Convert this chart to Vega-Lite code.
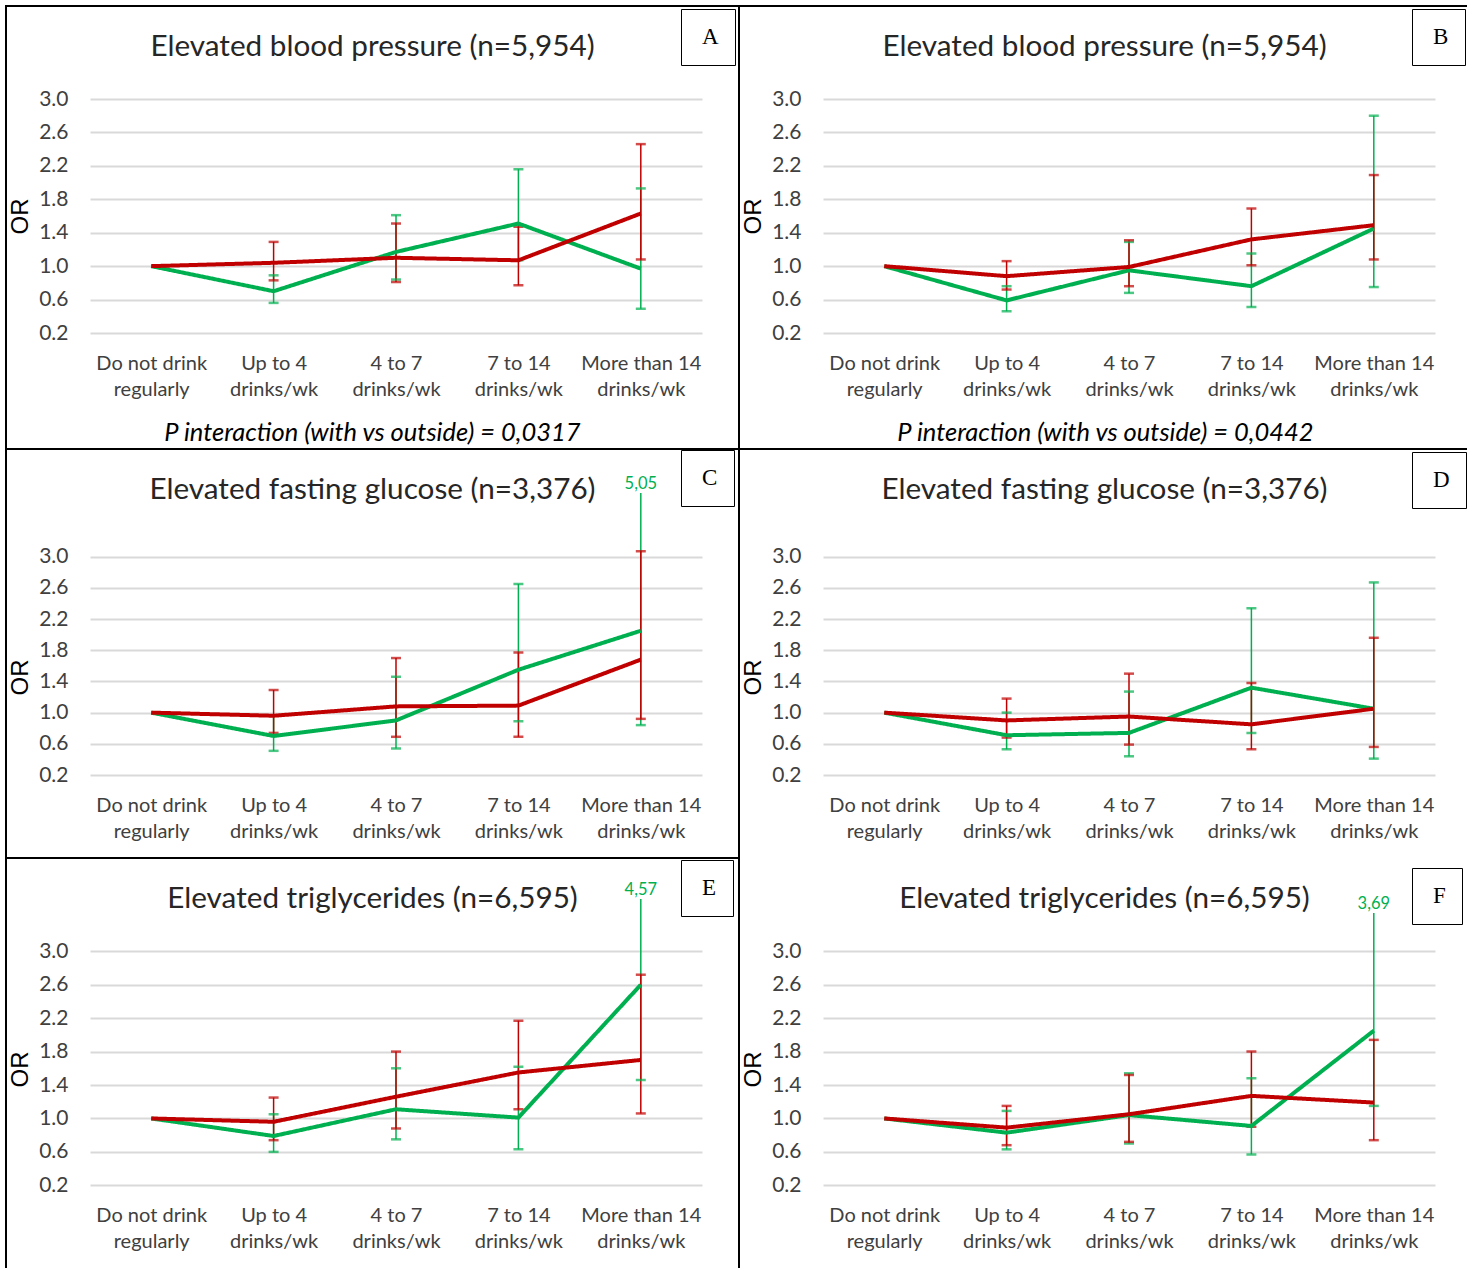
{
  "$schema": "https://vega.github.io/schema/vega-lite/v6.json",
  "padding": {"left": 5, "top": 5, "right": 0, "bottom": 0},
  "autosize": {"type": "pad"},
  "bounds": "flush",
  "spacing": 0,
  "columns": 2,
  "datasets": {
    "or": [
      {"panel":"A","group":"outside","cat":"Do not drink regularly","or":1.0},
      {"panel":"A","group":"outside","cat":"Up to 4 drinks/wk","or":0.70,"lo":0.56,"hi":0.89},
      {"panel":"A","group":"outside","cat":"4 to 7 drinks/wk","or":1.17,"lo":0.84,"hi":1.61},
      {"panel":"A","group":"outside","cat":"7 to 14 drinks/wk","or":1.51,"lo":1.07,"hi":2.16},
      {"panel":"A","group":"outside","cat":"More than 14 drinks/wk","or":0.97,"lo":0.49,"hi":1.93},
      {"panel":"A","group":"with","cat":"Do not drink regularly","or":1.0},
      {"panel":"A","group":"with","cat":"Up to 4 drinks/wk","or":1.04,"lo":0.83,"hi":1.29},
      {"panel":"A","group":"with","cat":"4 to 7 drinks/wk","or":1.10,"lo":0.81,"hi":1.51},
      {"panel":"A","group":"with","cat":"7 to 14 drinks/wk","or":1.07,"lo":0.77,"hi":1.47},
      {"panel":"A","group":"with","cat":"More than 14 drinks/wk","or":1.63,"lo":1.08,"hi":2.46},

      {"panel":"B","group":"outside","cat":"Do not drink regularly","or":1.0},
      {"panel":"B","group":"outside","cat":"Up to 4 drinks/wk","or":0.59,"lo":0.46,"hi":0.76},
      {"panel":"B","group":"outside","cat":"4 to 7 drinks/wk","or":0.95,"lo":0.68,"hi":1.29},
      {"panel":"B","group":"outside","cat":"7 to 14 drinks/wk","or":0.76,"lo":0.51,"hi":1.15},
      {"panel":"B","group":"outside","cat":"More than 14 drinks/wk","or":1.45,"lo":0.75,"hi":2.80},
      {"panel":"B","group":"with","cat":"Do not drink regularly","or":1.0},
      {"panel":"B","group":"with","cat":"Up to 4 drinks/wk","or":0.88,"lo":0.72,"hi":1.06},
      {"panel":"B","group":"with","cat":"4 to 7 drinks/wk","or":0.99,"lo":0.76,"hi":1.31},
      {"panel":"B","group":"with","cat":"7 to 14 drinks/wk","or":1.32,"lo":1.01,"hi":1.69},
      {"panel":"B","group":"with","cat":"More than 14 drinks/wk","or":1.49,"lo":1.08,"hi":2.09},

      {"panel":"C","group":"outside","cat":"Do not drink regularly","or":1.0},
      {"panel":"C","group":"outside","cat":"Up to 4 drinks/wk","or":0.70,"lo":0.51,"hi":0.96},
      {"panel":"C","group":"outside","cat":"4 to 7 drinks/wk","or":0.90,"lo":0.54,"hi":1.46},
      {"panel":"C","group":"outside","cat":"7 to 14 drinks/wk","or":1.55,"lo":0.89,"hi":2.65},
      {"panel":"C","group":"outside","cat":"More than 14 drinks/wk","or":2.05,"lo":0.84,"hi":5.05},
      {"panel":"C","group":"with","cat":"Do not drink regularly","or":1.0},
      {"panel":"C","group":"with","cat":"Up to 4 drinks/wk","or":0.96,"lo":0.74,"hi":1.29},
      {"panel":"C","group":"with","cat":"4 to 7 drinks/wk","or":1.08,"lo":0.69,"hi":1.70},
      {"panel":"C","group":"with","cat":"7 to 14 drinks/wk","or":1.09,"lo":0.69,"hi":1.77},
      {"panel":"C","group":"with","cat":"More than 14 drinks/wk","or":1.68,"lo":0.92,"hi":3.07},

      {"panel":"D","group":"outside","cat":"Do not drink regularly","or":1.0},
      {"panel":"D","group":"outside","cat":"Up to 4 drinks/wk","or":0.71,"lo":0.53,"hi":1.00},
      {"panel":"D","group":"outside","cat":"4 to 7 drinks/wk","or":0.74,"lo":0.44,"hi":1.27},
      {"panel":"D","group":"outside","cat":"7 to 14 drinks/wk","or":1.32,"lo":0.74,"hi":2.34},
      {"panel":"D","group":"outside","cat":"More than 14 drinks/wk","or":1.05,"lo":0.41,"hi":2.67},
      {"panel":"D","group":"with","cat":"Do not drink regularly","or":1.0},
      {"panel":"D","group":"with","cat":"Up to 4 drinks/wk","or":0.90,"lo":0.68,"hi":1.18},
      {"panel":"D","group":"with","cat":"4 to 7 drinks/wk","or":0.95,"lo":0.59,"hi":1.50},
      {"panel":"D","group":"with","cat":"7 to 14 drinks/wk","or":0.85,"lo":0.53,"hi":1.38},
      {"panel":"D","group":"with","cat":"More than 14 drinks/wk","or":1.05,"lo":0.56,"hi":1.96},

      {"panel":"E","group":"outside","cat":"Do not drink regularly","or":1.0},
      {"panel":"E","group":"outside","cat":"Up to 4 drinks/wk","or":0.79,"lo":0.60,"hi":1.05},
      {"panel":"E","group":"outside","cat":"4 to 7 drinks/wk","or":1.11,"lo":0.75,"hi":1.60},
      {"panel":"E","group":"outside","cat":"7 to 14 drinks/wk","or":1.01,"lo":0.63,"hi":1.62},
      {"panel":"E","group":"outside","cat":"More than 14 drinks/wk","or":2.60,"lo":1.46,"hi":4.57},
      {"panel":"E","group":"with","cat":"Do not drink regularly","or":1.0},
      {"panel":"E","group":"with","cat":"Up to 4 drinks/wk","or":0.96,"lo":0.74,"hi":1.25},
      {"panel":"E","group":"with","cat":"4 to 7 drinks/wk","or":1.26,"lo":0.88,"hi":1.80},
      {"panel":"E","group":"with","cat":"7 to 14 drinks/wk","or":1.55,"lo":1.11,"hi":2.17},
      {"panel":"E","group":"with","cat":"More than 14 drinks/wk","or":1.70,"lo":1.06,"hi":2.72},

      {"panel":"F","group":"outside","cat":"Do not drink regularly","or":1.0},
      {"panel":"F","group":"outside","cat":"Up to 4 drinks/wk","or":0.83,"lo":0.63,"hi":1.09},
      {"panel":"F","group":"outside","cat":"4 to 7 drinks/wk","or":1.04,"lo":0.70,"hi":1.54},
      {"panel":"F","group":"outside","cat":"7 to 14 drinks/wk","or":0.91,"lo":0.57,"hi":1.48},
      {"panel":"F","group":"outside","cat":"More than 14 drinks/wk","or":2.05,"lo":1.15,"hi":3.69},
      {"panel":"F","group":"with","cat":"Do not drink regularly","or":1.0},
      {"panel":"F","group":"with","cat":"Up to 4 drinks/wk","or":0.89,"lo":0.68,"hi":1.15},
      {"panel":"F","group":"with","cat":"4 to 7 drinks/wk","or":1.05,"lo":0.72,"hi":1.52},
      {"panel":"F","group":"with","cat":"7 to 14 drinks/wk","or":1.27,"lo":0.90,"hi":1.80},
      {"panel":"F","group":"with","cat":"More than 14 drinks/wk","or":1.19,"lo":0.74,"hi":1.94}
    ]
  },
  "resolve": {"scale": {"x": "independent", "y": "independent", "strokeDash": "independent"}, "axis": {"x": "independent", "y": "independent"}, "legend": {"strokeDash": "independent"}},
  "concat": [
    {
      "width": 733, "height": 443,
      "title": {"text": "Elevated blood pressure (n=5,954)"},
      "data": {"name": "or"},
      "transform": [{"filter": "datum.panel == 'A'"}],
      "encoding": {
        "x": {"field": "cat", "type": "ordinal", "sort": ["Do not drink regularly", "Up to 4 drinks/wk", "4 to 7 drinks/wk", "7 to 14 drinks/wk", "More than 14 drinks/wk"], "scale": {"type": "point", "range": [84, 696], "padding": 0.5},
          "axis": {"offset": -96, "labelExpr": "datum.label == 'Do not drink regularly' ? ['Do not drink', 'regularly'] : [replace(datum.label, ' drinks/wk', ''), 'drinks/wk']", "title": "P interaction (with vs outside) = 0,0317", "titleX": 366, "titleY": 67, "titleFontStyle": "italic", "titleFontSize": 25.5, "titleFont": "Lato", "titleBaseline": "top", "titleAlign": "center"}},
        "color": {"field": "group", "type": "nominal", "scale": {"domain": ["outside", "with"], "range": ["#00B050", "#C00000"]}, "legend": null}
      },
      "layer": [
        {"mark": {"type": "rule", "strokeWidth": 1.5}, "transform": [{"filter": "isValid(datum.lo)"}],
         "encoding": {"y": {"field": "lo", "type": "quantitative", "scale": {"domain": [0.2, 3.0], "range": [327, 93], "clamp": true, "nice": false, "zero": false},
           "axis": {"title": "OR", "values": [0.2, 0.6, 1.0, 1.4, 1.8, 2.2, 2.6, 3.0], "format": ".1f", "labelExpr": "replace(datum.label, ',', '.')", "offset": -65, "labelPadding": 3, "titleY": 210, "titlePadding": 6, "titleFont": "Liberation Sans", "titleFontSize": 24}},
           "y2": {"field": "hi"}}},
        {"mark": {"type": "tick", "orient": "horizontal", "size": 10, "thickness": 2.5}, "transform": [{"filter": "isValid(datum.lo)"}], "encoding": {"y": {"field": "lo", "type": "quantitative"}}},
        {"mark": {"type": "tick", "orient": "horizontal", "size": 10, "thickness": 2.5}, "transform": [{"filter": "isValid(datum.hi) && datum.hi <= 3.3"}], "encoding": {"y": {"field": "hi", "type": "quantitative"}}},
        {"mark": {"type": "line", "strokeWidth": 4}, "encoding": {"y": {"field": "or", "type": "quantitative"}, "strokeDash": {"field": "panel", "type": "nominal", "scale": {"range": [[1, 0]]}, "legend": {"title": null, "orient": "none", "legendX": 675, "legendY": 3}}}},
        {"mark": {"type": "text", "fontSize": 16.5, "font": "Lato", "baseline": "alphabetic", "dy": -4}, "transform": [{"filter": "isValid(datum.hi) && datum.hi > 3.3"}], "encoding": {"y": {"field": "hi", "type": "quantitative"}, "text": {"field": "hi", "type": "quantitative", "format": ".2f"}}}
      ]
    },
    {
      "width": 731, "height": 443,
      "title": {"text": "Elevated blood pressure (n=5,954)"},
      "data": {"name": "or"},
      "transform": [{"filter": "datum.panel == 'B'"}],
      "encoding": {
        "x": {"field": "cat", "type": "ordinal", "sort": ["Do not drink regularly", "Up to 4 drinks/wk", "4 to 7 drinks/wk", "7 to 14 drinks/wk", "More than 14 drinks/wk"], "scale": {"type": "point", "range": [84, 696], "padding": 0.5},
          "axis": {"offset": -96, "labelExpr": "datum.label == 'Do not drink regularly' ? ['Do not drink', 'regularly'] : [replace(datum.label, ' drinks/wk', ''), 'drinks/wk']", "title": "P interaction (with vs outside) = 0,0442", "titleX": 366, "titleY": 67, "titleFontStyle": "italic", "titleFontSize": 25.5, "titleFont": "Lato", "titleBaseline": "top", "titleAlign": "center"}},
        "color": {"field": "group", "type": "nominal", "scale": {"domain": ["outside", "with"], "range": ["#00B050", "#C00000"]}, "legend": null}
      },
      "layer": [
        {"mark": {"type": "rule", "strokeWidth": 1.5}, "transform": [{"filter": "isValid(datum.lo)"}],
         "encoding": {"y": {"field": "lo", "type": "quantitative", "scale": {"domain": [0.2, 3.0], "range": [327, 93], "clamp": true, "nice": false, "zero": false},
           "axis": {"title": "OR", "values": [0.2, 0.6, 1.0, 1.4, 1.8, 2.2, 2.6, 3.0], "format": ".1f", "labelExpr": "replace(datum.label, ',', '.')", "offset": -65, "labelPadding": 3, "titleY": 210, "titlePadding": 6, "titleFont": "Liberation Sans", "titleFontSize": 24}},
           "y2": {"field": "hi"}}},
        {"mark": {"type": "tick", "orient": "horizontal", "size": 10, "thickness": 2.5}, "transform": [{"filter": "isValid(datum.lo)"}], "encoding": {"y": {"field": "lo", "type": "quantitative"}}},
        {"mark": {"type": "tick", "orient": "horizontal", "size": 10, "thickness": 2.5}, "transform": [{"filter": "isValid(datum.hi) && datum.hi <= 3.3"}], "encoding": {"y": {"field": "hi", "type": "quantitative"}}},
        {"mark": {"type": "line", "strokeWidth": 4}, "encoding": {"y": {"field": "or", "type": "quantitative"}, "strokeDash": {"field": "panel", "type": "nominal", "scale": {"range": [[1, 0]]}, "legend": {"title": null, "orient": "none", "legendX": 673, "legendY": 3}}}},
        {"mark": {"type": "text", "fontSize": 16.5, "font": "Lato", "baseline": "alphabetic", "dy": -4}, "transform": [{"filter": "isValid(datum.hi) && datum.hi > 3.3"}], "encoding": {"y": {"field": "hi", "type": "quantitative"}, "text": {"field": "hi", "type": "quantitative", "format": ".2f"}}}
      ]
    },
    {
      "width": 733, "height": 409,
      "title": {"text": "Elevated fasting glucose (n=3,376)"},
      "data": {"name": "or"},
      "transform": [{"filter": "datum.panel == 'C'"}],
      "encoding": {
        "x": {"field": "cat", "type": "ordinal", "sort": ["Do not drink regularly", "Up to 4 drinks/wk", "4 to 7 drinks/wk", "7 to 14 drinks/wk", "More than 14 drinks/wk"], "scale": {"type": "point", "range": [84, 696], "padding": 0.5},
          "axis": {"offset": -63, "labelExpr": "datum.label == 'Do not drink regularly' ? ['Do not drink', 'regularly'] : [replace(datum.label, ' drinks/wk', ''), 'drinks/wk']", "title": null}},
        "color": {"field": "group", "type": "nominal", "scale": {"domain": ["outside", "with"], "range": ["#00B050", "#C00000"]}, "legend": null}
      },
      "layer": [
        {"mark": {"type": "rule", "strokeWidth": 1.5}, "transform": [{"filter": "isValid(datum.lo)"}],
         "encoding": {"y": {"field": "lo", "type": "quantitative", "scale": {"domain": [0.2, 3.817], "range": [326, 44], "clamp": true, "nice": false, "zero": false},
           "axis": {"title": "OR", "values": [0.2, 0.6, 1.0, 1.4, 1.8, 2.2, 2.6, 3.0], "format": ".1f", "labelExpr": "replace(datum.label, ',', '.')", "offset": -65, "labelPadding": 3, "titleY": 228, "titlePadding": 6, "titleFont": "Liberation Sans", "titleFontSize": 24}},
           "y2": {"field": "hi"}}},
        {"mark": {"type": "tick", "orient": "horizontal", "size": 10, "thickness": 2.5}, "transform": [{"filter": "isValid(datum.lo)"}], "encoding": {"y": {"field": "lo", "type": "quantitative"}}},
        {"mark": {"type": "tick", "orient": "horizontal", "size": 10, "thickness": 2.5}, "transform": [{"filter": "isValid(datum.hi) && datum.hi <= 3.3"}], "encoding": {"y": {"field": "hi", "type": "quantitative"}}},
        {"mark": {"type": "line", "strokeWidth": 4}, "encoding": {"y": {"field": "or", "type": "quantitative"}, "strokeDash": {"field": "panel", "type": "nominal", "scale": {"range": [[1, 0]]}, "legend": {"title": null, "orient": "none", "legendX": 675, "legendY": 1}}}},
        {"mark": {"type": "text", "fontSize": 16.5, "font": "Lato", "baseline": "alphabetic", "dy": -4}, "transform": [{"filter": "isValid(datum.hi) && datum.hi > 3.3"}], "encoding": {"y": {"field": "hi", "type": "quantitative"}, "text": {"field": "hi", "type": "quantitative", "format": ".2f"}}}
      ]
    },
    {
      "width": 731, "height": 409,
      "view": {"stroke": null},
      "title": {"text": "Elevated fasting glucose (n=3,376)"},
      "data": {"name": "or"},
      "transform": [{"filter": "datum.panel == 'D'"}],
      "encoding": {
        "x": {"field": "cat", "type": "ordinal", "sort": ["Do not drink regularly", "Up to 4 drinks/wk", "4 to 7 drinks/wk", "7 to 14 drinks/wk", "More than 14 drinks/wk"], "scale": {"type": "point", "range": [84, 696], "padding": 0.5},
          "axis": {"offset": -63, "labelExpr": "datum.label == 'Do not drink regularly' ? ['Do not drink', 'regularly'] : [replace(datum.label, ' drinks/wk', ''), 'drinks/wk']", "title": null}},
        "color": {"field": "group", "type": "nominal", "scale": {"domain": ["outside", "with"], "range": ["#00B050", "#C00000"]}, "legend": null}
      },
      "layer": [
        {"mark": {"type": "rule", "strokeWidth": 1.5}, "transform": [{"filter": "isValid(datum.lo)"}],
         "encoding": {"y": {"field": "lo", "type": "quantitative", "scale": {"domain": [0.2, 3.0], "range": [326, 107.7], "clamp": true, "nice": false, "zero": false},
           "axis": {"title": "OR", "values": [0.2, 0.6, 1.0, 1.4, 1.8, 2.2, 2.6, 3.0], "format": ".1f", "labelExpr": "replace(datum.label, ',', '.')", "offset": -65, "labelPadding": 3, "titleY": 228, "titlePadding": 6, "titleFont": "Liberation Sans", "titleFontSize": 24}},
           "y2": {"field": "hi"}}},
        {"mark": {"type": "tick", "orient": "horizontal", "size": 10, "thickness": 2.5}, "transform": [{"filter": "isValid(datum.lo)"}], "encoding": {"y": {"field": "lo", "type": "quantitative"}}},
        {"mark": {"type": "tick", "orient": "horizontal", "size": 10, "thickness": 2.5}, "transform": [{"filter": "isValid(datum.hi) && datum.hi <= 3.3"}], "encoding": {"y": {"field": "hi", "type": "quantitative"}}},
        {"mark": {"type": "line", "strokeWidth": 4}, "encoding": {"y": {"field": "or", "type": "quantitative"}, "strokeDash": {"field": "panel", "type": "nominal", "scale": {"range": [[1, 0]]}, "legend": {"title": null, "orient": "none", "legendX": 673, "legendY": 3}}}},
        {"mark": {"type": "text", "fontSize": 16.5, "font": "Lato", "baseline": "alphabetic", "dy": -4}, "transform": [{"filter": "isValid(datum.hi) && datum.hi > 3.3"}], "encoding": {"y": {"field": "hi", "type": "quantitative"}, "text": {"field": "hi", "type": "quantitative", "format": ".2f"}}}
      ]
    },
    {
      "width": 733, "height": 411,
      "title": {"text": "Elevated triglycerides (n=6,595)"},
      "data": {"name": "or"},
      "transform": [{"filter": "datum.panel == 'E'"}],
      "encoding": {
        "x": {"field": "cat", "type": "ordinal", "sort": ["Do not drink regularly", "Up to 4 drinks/wk", "4 to 7 drinks/wk", "7 to 14 drinks/wk", "More than 14 drinks/wk"], "scale": {"type": "point", "range": [84, 696], "padding": 0.5},
          "axis": {"offset": -64, "labelExpr": "datum.label == 'Do not drink regularly' ? ['Do not drink', 'regularly'] : [replace(datum.label, ' drinks/wk', ''), 'drinks/wk']", "title": null}},
        "color": {"field": "group", "type": "nominal", "scale": {"domain": ["outside", "with"], "range": ["#00B050", "#C00000"]}, "legend": null}
      },
      "layer": [
        {"mark": {"type": "rule", "strokeWidth": 1.5}, "transform": [{"filter": "isValid(datum.lo)"}],
         "encoding": {"y": {"field": "lo", "type": "quantitative", "scale": {"domain": [0.2, 3.626], "range": [327.3, 41], "clamp": true, "nice": false, "zero": false},
           "axis": {"title": "OR", "values": [0.2, 0.6, 1.0, 1.4, 1.8, 2.2, 2.6, 3.0], "format": ".1f", "labelExpr": "replace(datum.label, ',', '.')", "offset": -65, "labelPadding": 3, "titleY": 211, "titlePadding": 6, "titleFont": "Liberation Sans", "titleFontSize": 24}},
           "y2": {"field": "hi"}}},
        {"mark": {"type": "tick", "orient": "horizontal", "size": 10, "thickness": 2.5}, "transform": [{"filter": "isValid(datum.lo)"}], "encoding": {"y": {"field": "lo", "type": "quantitative"}}},
        {"mark": {"type": "tick", "orient": "horizontal", "size": 10, "thickness": 2.5}, "transform": [{"filter": "isValid(datum.hi) && datum.hi <= 3.3"}], "encoding": {"y": {"field": "hi", "type": "quantitative"}}},
        {"mark": {"type": "line", "strokeWidth": 4}, "encoding": {"y": {"field": "or", "type": "quantitative"}, "strokeDash": {"field": "panel", "type": "nominal", "scale": {"range": [[1, 0]]}, "legend": {"title": null, "orient": "none", "legendX": 675, "legendY": 2}}}},
        {"mark": {"type": "text", "fontSize": 16.5, "font": "Lato", "baseline": "alphabetic", "dy": -4}, "transform": [{"filter": "isValid(datum.hi) && datum.hi > 3.3"}], "encoding": {"y": {"field": "hi", "type": "quantitative"}, "text": {"field": "hi", "type": "quantitative", "format": ".2f"}}}
      ]
    },
    {
      "width": 731, "height": 411,
      "view": {"stroke": null},
      "title": {"text": "Elevated triglycerides (n=6,595)"},
      "data": {"name": "or"},
      "transform": [{"filter": "datum.panel == 'F'"}],
      "encoding": {
        "x": {"field": "cat", "type": "ordinal", "sort": ["Do not drink regularly", "Up to 4 drinks/wk", "4 to 7 drinks/wk", "7 to 14 drinks/wk", "More than 14 drinks/wk"], "scale": {"type": "point", "range": [84, 696], "padding": 0.5},
          "axis": {"offset": -64, "labelExpr": "datum.label == 'Do not drink regularly' ? ['Do not drink', 'regularly'] : [replace(datum.label, ' drinks/wk', ''), 'drinks/wk']", "title": null}},
        "color": {"field": "group", "type": "nominal", "scale": {"domain": ["outside", "with"], "range": ["#00B050", "#C00000"]}, "legend": null}
      },
      "layer": [
        {"mark": {"type": "rule", "strokeWidth": 1.5}, "transform": [{"filter": "isValid(datum.lo)"}],
         "encoding": {"y": {"field": "lo", "type": "quantitative", "scale": {"domain": [0.2, 3.458], "range": [327.3, 55], "clamp": true, "nice": false, "zero": false},
           "axis": {"title": "OR", "values": [0.2, 0.6, 1.0, 1.4, 1.8, 2.2, 2.6, 3.0], "format": ".1f", "labelExpr": "replace(datum.label, ',', '.')", "offset": -65, "labelPadding": 3, "titleY": 211, "titlePadding": 6, "titleFont": "Liberation Sans", "titleFontSize": 24}},
           "y2": {"field": "hi"}}},
        {"mark": {"type": "tick", "orient": "horizontal", "size": 10, "thickness": 2.5}, "transform": [{"filter": "isValid(datum.lo)"}], "encoding": {"y": {"field": "lo", "type": "quantitative"}}},
        {"mark": {"type": "tick", "orient": "horizontal", "size": 10, "thickness": 2.5}, "transform": [{"filter": "isValid(datum.hi) && datum.hi <= 3.3"}], "encoding": {"y": {"field": "hi", "type": "quantitative"}}},
        {"mark": {"type": "line", "strokeWidth": 4}, "encoding": {"y": {"field": "or", "type": "quantitative"}, "strokeDash": {"field": "panel", "type": "nominal", "scale": {"range": [[1, 0]]}, "legend": {"title": null, "orient": "none", "legendX": 673, "legendY": 10}}}},
        {"mark": {"type": "text", "fontSize": 16.5, "font": "Lato", "baseline": "alphabetic", "dy": -4}, "transform": [{"filter": "isValid(datum.hi) && datum.hi > 3.3"}], "encoding": {"y": {"field": "hi", "type": "quantitative"}, "text": {"field": "hi", "type": "quantitative", "format": ".2f"}}}
      ]
    }
  ],
  "config": {
    "view": {"stroke": "#000000", "strokeWidth": 2},
    "font": "Lato",
    "locale": {"number": {"decimal": ",", "thousands": " ", "grouping": [3], "currency": ["", ""]}},
    "concat": {"spacing": 0},
    "axis": {"domain": false, "ticks": false, "labelFont": "Lato", "labelColor": "#404040", "titleFontWeight": "normal", "titleColor": "#000000"},
    "axisX": {"grid": false, "labelPadding": 0, "labelFontSize": 20, "labelBaseline": "top", "labelLineHeight": 26, "labelOverlap": false, "labelAngle": 0},
    "axisY": {"grid": true, "gridColor": "#d9d9d9", "gridWidth": 2, "labelFontSize": 21},
    "title": {"font": "Lato", "fontSize": 29.7, "fontWeight": "normal", "color": "#262626", "anchor": "middle", "frame": "group", "baseline": "middle", "offset": -57},
    "legend": {"strokeColor": "#000000", "fillColor": "#ffffff", "padding": 16, "symbolSize": 0, "symbolStrokeWidth": 0, "symbolOpacity": 0, "labelOffset": -18, "labelFont": "Liberation Serif", "labelFontSize": 23, "labelColor": "#000000"}
  }
}
